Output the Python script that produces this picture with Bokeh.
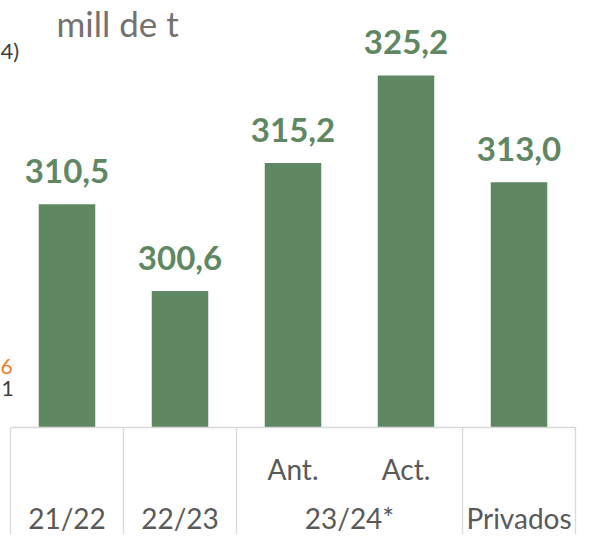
from bokeh.plotting import figure
from bokeh.models import Range1d, ColumnDataSource
from bokeh.core.properties import value
from bokeh.embed import file_html
from bokeh.resources import INLINE

# ---------------- data ----------------
groups = ["21/22", "22/23", "23/24*", "Privados"]
group_sizes = [1, 1, 2, 1]
sub_labels = ["", "", "Ant.", "Act.", ""]
values = [310.5, 300.6, 315.2, 325.2, 313.0]
value_labels = ["310,5", "300,6", "315,2", "325,2", "313,0"]
unit_label = "mill de t"
edge_texts = ["4)", "6", "1"]
edge_colors = ["#404040", "#ED7D31", "#404040"]

Y0 = 285.0          # value axis minimum (baseline)

# ---------------- geometry ----------------
W, H = 577, 534
PPU_Y = 8.756       # px per value unit
PPU_X = 113.0       # px per category
X_LEFT = 10         # canvas px of first category edge
Y_BASE = 427        # canvas px of baseline
TXT = 0.335         # observed downward shift of svg text baseline (em)

x_start = -X_LEFT / PPU_X
x_end = x_start + W / PPU_X
y_end = Y0 + Y_BASE / PPU_Y
y_start = y_end - H / PPU_Y


def dx(px):
    return x_start + px / PPU_X


def dy(px, fs):
    return y_end - (px - TXT * fs) / PPU_Y


GREEN = "#5f8762"
GRID = "#d9d9d9"
LABEL = "#595959"
FONT = value("Lato")

p = figure(width=W, height=H, output_backend="svg", toolbar_location=None,
           x_range=Range1d(x_start, x_end), y_range=Range1d(y_start, y_end),
           x_axis_location=None, y_axis_location=None, min_border=0)
p.grid.visible = False
p.outline_line_color = None
p.background_fill_color = "white"
p.border_fill_color = "white"

n = len(values)
xs = [i + 0.5 for i in range(n)]

# bars
src = ColumnDataSource(dict(x=xs, top=values, lab=value_labels))
p.vbar(x="x", top="top", bottom=Y0, width=0.5, source=src,
       fill_color=GREEN, line_color=None)

# value labels
p.text(x="x", y="top", text="lab", source=src, y_offset=-22 - TXT * 33,
       text_align="center", text_baseline="alphabetic",
       text_font=FONT, text_font_style="bold", text_font_size="33px",
       text_color=GREEN)

# category axis line
p.segment(x0=[0], y0=[Y0], x1=[n], y1=[Y0], line_color=GRID, line_width=1.3)

# group separators
edges = [0]
for s in group_sizes:
    edges.append(edges[-1] + s)
p.segment(x0=edges, y0=[Y0] * len(edges), x1=edges, y1=[y_start] * len(edges),
          line_color=GRID, line_width=1.3)

# sub labels
sub_x = [x for x, s in zip(xs, sub_labels) if s]
sub_t = [s for s in sub_labels if s]
p.text(x=sub_x, y=[dy(478, 28)] * len(sub_t), text=sub_t,
       text_align="center", text_baseline="alphabetic",
       text_font=FONT, text_font_size="28px", text_color=LABEL)

# group labels
gx = [(edges[i] + edges[i + 1]) / 2 for i in range(len(groups))]
p.text(x=gx, y=[dy(527, 28)] * len(groups), text=groups,
       text_align="center", text_baseline="alphabetic",
       text_font=FONT, text_font_size="28px", text_color=LABEL)

# unit title
p.text(x=[dx(56)], y=[dy(34, 35)], text=[unit_label],
       text_align="left", text_baseline="alphabetic",
       text_font=FONT, text_font_size="35px", text_color="#767171")

# texts at the left edge
p.text(x=[dx(0), dx(0), dx(1)], y=[dy(57, 22), dy(373, 21), dy(395, 21)],
       text=edge_texts, text_align="left", text_baseline="alphabetic",
       text_font=FONT, text_font_size=["22px", "21px", "21px"],
       text_color=edge_colors)

open("out.html", "w").write(file_html(p, INLINE))
